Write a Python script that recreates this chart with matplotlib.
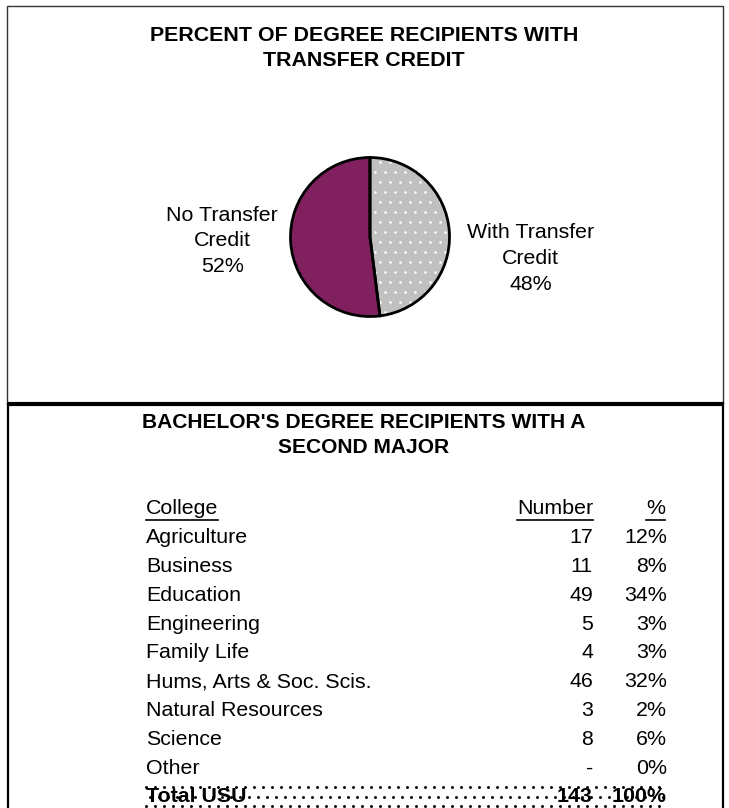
import numpy as np
import matplotlib.pyplot as plt
from matplotlib.patches import Rectangle

plt.rcParams['font.family'] = ['Liberation Sans', 'DejaVu Sans']

# pie data
pie_labels = ["With Transfer\nCredit", "No Transfer\nCredit"]
pie_values = [48, 52]
pie_colors = ["#C0C0C0", "#80205F"]

# table data
colleges = ["Agriculture", "Business", "Education", "Engineering", "Family Life",
            "Hums, Arts & Soc. Scis.", "Natural Resources", "Science", "Other"]
numbers = [17, 11, 49, 5, 4, 46, 3, 8, 0]
percents = [12, 8, 34, 3, 3, 32, 2, 6, 0]
total_label = "Total USU"
total_number = 143
total_percent = 100

W, H = 729, 808
fig = plt.figure(figsize=(W / 100, H / 100), dpi=100)
ax = fig.add_axes([0, 0, 1, 1])
ax.set_xlim(0, W)
ax.set_ylim(H, 0)
ax.axis('off')

fs = 15.4

# frames
ax.add_patch(Rectangle((7.5, 5.5), 715.5, 398, fill=False, edgecolor='#333333', lw=1))
ax.plot([8, 724], [404, 404], color='black', lw=3, solid_capstyle='butt')
ax.plot([8.5, 8.5], [404, H], color='black', lw=1.6)
ax.plot([723.5, 723.5], [404, H], color='black', lw=1.6)

# top title
ax.text(364, 48, "PERCENT OF DEGREE RECIPIENTS WITH\nTRANSFER CREDIT", ha='center', va='center',
        fontsize=fs, fontweight='bold', linespacing=1.45)

# pie chart in its own axes
cx, cy, r = 370, 237, 79.5
side = r * 2.5
pax = fig.add_axes([(cx - side / 2) / W, (H - cy - side / 2) / H, side / W, side / H])
wedges, _ = pax.pie(pie_values, colors=pie_colors, startangle=90, counterclock=False,
                    wedgeprops=dict(linewidth=0), frame=True)
# white dot texture on the grey slice
step = 10 / r
gx, gy = np.meshgrid(np.arange(-1.2, 1.2, step), np.arange(-1.2, 1.2, step))
gx[1::2] += step / 2
dots = pax.scatter(gx.ravel(), gy.ravel(), s=3.5, color='white', lw=0, zorder=3)
dots.set_clip_path(wedges[0])
pax.pie(pie_values, colors=['none', 'none'], startangle=90, counterclock=False,
        wedgeprops=dict(edgecolor='black', linewidth=2, zorder=4), frame=True)
pax.set_xlim(-1.25, 1.25)
pax.set_ylim(-1.25, 1.25)
pax.axis('off')

label_pos = [(2.02, -0.27), (-1.86, -0.05)]
for lab, val, (lx, ly) in zip(pie_labels, pie_values, label_pos):
    pax.text(lx, ly, f"{lab}\n{val}%", ha='center', va='center', fontsize=fs,
             linespacing=1.45, clip_on=False)

# bottom title
ax.text(364, 435, "BACHELOR'S DEGREE RECIPIENTS WITH A\nSECOND MAJOR", ha='center', va='center',
        fontsize=fs - 0.3, fontweight='bold', linespacing=1.45)

# table
x_col, x_num, x_pct = 146, 593, 667
y0, dy = 509, 28.8
heads = [ax.text(x_col, y0, "College", ha='left', va='center', fontsize=fs),
         ax.text(x_num, y0, "Number", ha='right', va='center', fontsize=fs),
         ax.text(x_pct - 11, y0, "%", ha='center', va='center', fontsize=fs)]

for i, (c, n, p) in enumerate(zip(colleges, numbers, percents)):
    y = y0 + dy * (i + 1)
    ax.text(x_col, y, c, ha='left', va='center', fontsize=fs)
    ax.text(x_num, y, str(n) if n else "-", ha='right', va='center', fontsize=fs)
    ax.text(x_pct, y, f"{p}%", ha='right', va='center', fontsize=fs)

# dotted background of the total row
yt = y0 + dy * (len(colleges) + 1)
tx, ty = np.meshgrid(np.arange(146, 668, 9.0), np.arange(yt - 10, H + 5, 9.5))
tx[1::2] += 4.5
ax.scatter(tx.ravel(), ty.ravel(), s=4.5, color='black', lw=0, zorder=1)
for txt, x, ha in [(total_label, x_col, 'left'), (str(total_number), x_num, 'right'),
                   (f"{total_percent}%", x_pct, 'right')]:
    ax.text(x, yt, txt, ha=ha, va='center', fontsize=fs, fontweight='bold', zorder=2)

# underline headers
fig.canvas.draw()
for t in heads:
    bb = t.get_window_extent()
    yu = H - bb.y0 + 1
    ax.plot([bb.x0, bb.x1], [yu, yu], color='black', lw=1.2)

fig.savefig("out.png", dpi=100)
